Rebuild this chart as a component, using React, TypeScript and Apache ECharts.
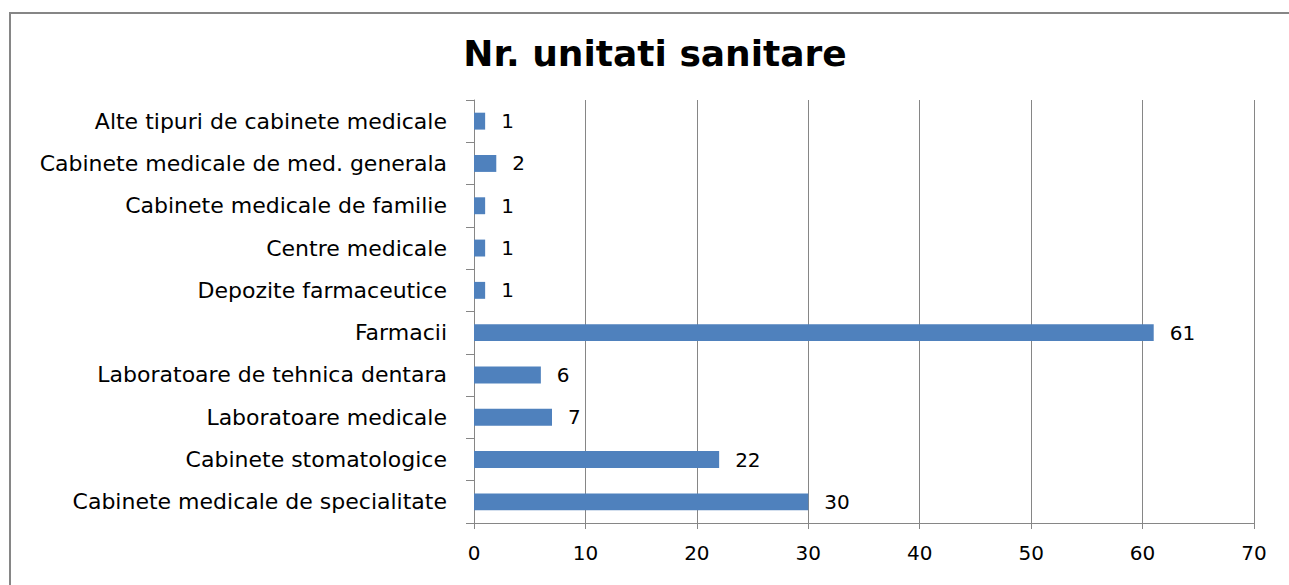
import React, { useEffect, useRef } from "react";
import * as echarts from "echarts";

const title = "Nr. unitati sanitare";
const categories = [
  "Cabinete medicale de specialitate",
  "Cabinete stomatologice",
  "Laboratoare medicale",
  "Laboratoare de tehnica dentara",
  "Farmacii",
  "Depozite farmaceutice",
  "Centre medicale",
  "Cabinete medicale de familie",
  "Cabinete medicale de med. generala",
  "Alte tipuri de cabinete medicale",
];
const values = [30, 22, 7, 6, 61, 1, 1, 1, 2, 1];
const axisMin = 0;
const axisMax = 70;
const axisStep = 10;

const FONT = "'DejaVu Sans', sans-serif";

export default function App() {
  const ref = useRef<HTMLDivElement>(null);
  useEffect(() => {
    document.body.style.margin = "0";
    if (!ref.current) return;
    const chart = echarts.init(ref.current, null, { renderer: "svg" });
    chart.setOption({
      animation: false,
      backgroundColor: "#ffffff",
      title: {
        text: title,
        left: 650,
        textAlign: "center",
        top: 30,
        textStyle: { fontFamily: FONT, fontSize: 36, fontWeight: "bold", color: "#000" },
      },
      graphic: [
        {
          type: "rect",
          shape: { x: 10, y: 13, width: 1300, height: 620 },
          style: { fill: "none", stroke: "#868686", lineWidth: 2 },
          silent: true,
        },
      ],
      grid: { left: 474, right: 35, top: 100, bottom: 62, containLabel: false },
      xAxis: {
        type: "value",
        min: axisMin,
        max: axisMax,
        interval: axisStep,
        axisLine: { show: true, lineStyle: { color: "#868686", width: 1 } },
        axisTick: { show: true, length: 6, lineStyle: { color: "#868686" } },
        splitLine: { show: true, lineStyle: { color: "#868686", width: 1 } },
        axisLabel: { margin: 20, fontFamily: FONT, fontSize: 20, color: "#000" },
      },
      yAxis: {
        type: "category",
        data: categories,
        axisLine: { show: true, lineStyle: { color: "#868686", width: 1 } },
        axisTick: { show: true, length: 8, lineStyle: { color: "#868686" } },
        axisLabel: { margin: 27, fontFamily: FONT, fontSize: 22, color: "#000" },
      },
      series: [
        {
          type: "bar",
          data: values,
          barCategoryGap: "60%",
          itemStyle: { color: "#4f81bd" },
          label: {
            show: true,
            position: "right",
            distance: 16,
            fontFamily: FONT,
            fontSize: 20,
            color: "#000",
          },
        },
      ],
    });
    return () => chart.dispose();
  }, []);
  return <div ref={ref} style={{ width: 1289, height: 585 }} />;
}
